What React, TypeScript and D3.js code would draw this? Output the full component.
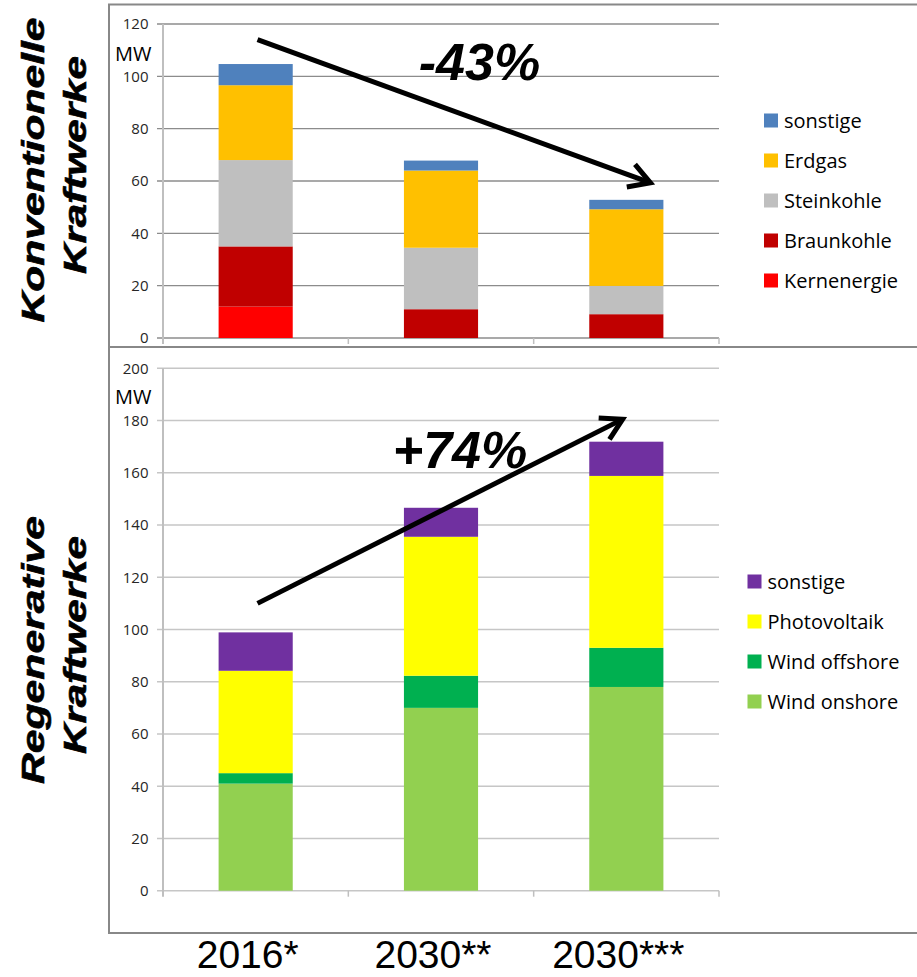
import React from 'react';
import * as d3 from 'd3';

const categories = ['2016*', '2030**', '2030***'];

// Konventionelle Kraftwerke (MW), stacked bottom -> top
const convSeries = ['Kernenergie', 'Braunkohle', 'Steinkohle', 'Erdgas', 'sonstige'];
const convColors = ['#FF0000', '#C00000', '#BFBFBF', '#FFC000', '#4F81BD'];
const kernenergie = [12, 0, 0];
const braunkohle = [23, 11, 9.1];
const steinkohle = [33, 23.5, 10.8];
const erdgas = [28.6, 29.5, 29.3];
const convSonstige = [8.1, 3.8, 3.6];
const convTicks = [0, 20, 40, 60, 80, 100, 120];

// Regenerative Kraftwerke (MW)
const regSeries = ['Wind onshore', 'Wind offshore', 'Photovoltaik', 'sonstige'];
const regColors = ['#92D050', '#00B050', '#FFFF00', '#7030A0'];
const windOnshore = [41, 70, 78];
const windOffshore = [4, 12.3, 15];
const photovoltaik = [39.2, 53.2, 65.8];
const regSonstige = [14.7, 11.1, 13.1];
const regTicks = [0, 20, 40, 60, 80, 100, 120, 140, 160, 180, 200];

// annotations, in (category index, MW)
const convArrow = { from: [0.01, 114], to: [2.13, 59.3] };
const regArrow = { from: [0.01, 110], to: [1.98, 180.5] };
const convChange = { label: '-43%', at: [0.88, 98.6] };
const regChange = { label: '+74%', at: [0.74, 161.8] };

const W = 917;
const H = 977;
const plotLeft = 163;
const plotRight = 719;

const x = d3.scaleBand<string>().domain(categories).range([plotLeft, plotRight])
  .paddingInner(0.6).paddingOuter(0.3);
const catX = (i: number) => (x(categories[0]) as number) + x.bandwidth() / 2 + i * x.step();

const tickFont = "'Open Sans', sans-serif";
const arial = "'Liberation Sans', Arial, sans-serif";

function buildRows(keys: string[], cols: number[][]) {
  return categories.map((c, i) => {
    const r: any = { cat: c };
    keys.forEach((k, j) => { r[k] = cols[j][i]; });
    return r;
  });
}

function Arrow({ from, to, y }: any) {
  const x1 = catX(from[0]), y1 = y(from[1]);
  const x2 = catX(to[0]), y2 = y(to[1]);
  const ang = Math.atan2(y1 - y2, x1 - x2);
  const len = 24;
  const spread = Math.PI / 6;
  const a = [x2 + len * Math.cos(ang + spread), y2 + len * Math.sin(ang + spread)];
  const b = [x2 + len * Math.cos(ang - spread), y2 + len * Math.sin(ang - spread)];
  return (
    <g stroke="#000" strokeWidth={5} fill="none">
      <line x1={x1} y1={y1} x2={x2 + 2 * Math.cos(ang)} y2={y2 + 2 * Math.sin(ang)} />
      <path d={`M${a[0]},${a[1]}L${x2},${y2}L${b[0]},${b[1]}`} strokeLinejoin="miter" />
    </g>
  );
}

function Panel(props: any) {
  const { keys, colors, cols, ticks, yMaxPx, yZeroPx, gridColor, gridWidth, legendX, legendY,
    arrow, change, mwY } = props;
  const max = ticks[ticks.length - 1];
  const y = d3.scaleLinear().domain([0, max]).range([yZeroPx, yMaxPx]);
  const rows = buildRows(keys, cols);
  const stacked = d3.stack().keys(keys)(rows);
  const boundaries = [0, 1, 2, 3].map(i => plotLeft + i * x.step());
  return (
    <g>
      {ticks.map((t: number) => (
        <g key={t}>
          <line x1={plotLeft - 6} x2={plotRight} y1={y(t)} y2={y(t)} stroke={gridColor} strokeWidth={gridWidth} />
          <text x={148.5} y={y(t)} dy="0.36em" textAnchor="end" fontFamily={tickFont} fontSize={15}
            fill="#262626">{t}</text>
        </g>
      ))}
      <line x1={plotLeft} x2={plotLeft} y1={yMaxPx} y2={yZeroPx + 6} stroke="#BFBFBF" strokeWidth={2} />
      {boundaries.slice(1).map((bx, i) => (
        <line key={i} x1={bx} x2={bx} y1={yZeroPx} y2={yZeroPx + 6} stroke="#BFBFBF" strokeWidth={1.5} />
      ))}
      {stacked.map((s: any, si: number) => (
        <g key={keys[si]} fill={colors[si]}>
          {s.map((d: any, i: number) => d[1] - d[0] > 0 ? (
            <rect key={i} x={x(categories[i])} width={x.bandwidth()} y={y(d[1])}
              height={y(d[0]) - y(d[1])} />
          ) : null)}
        </g>
      ))}
      <text x={115} y={mwY} fontFamily={tickFont} fontSize={20} fill="#000">MW</text>
      {keys.slice().reverse().map((k: string, i: number) => {
        const ci = keys.length - 1 - i;
        return (
          <g key={k} transform={`translate(${legendX},${legendY + i * 40})`}>
            <rect x={0} y={-14} width={14} height={14} fill={colors[ci]} />
            <text x={20} y={0} fontFamily={tickFont} fontSize={20} fill="#000">{k}</text>
          </g>
        );
      })}
      <Arrow from={arrow.from} to={arrow.to} y={y} />
      <text x={catX(change.at[0])} y={y(change.at[1])} fontFamily={arial}
        fontWeight="bold" fontStyle="italic" fontSize={52} fill="#000">{change.label}</text>
    </g>
  );
}

function SideTitle({ lines, centerY }: any) {
  return (
    <g transform="rotate(-90)" fontFamily={arial} fontWeight="bold" fontStyle="italic" fontSize={31}
      fill="#000" stroke="#000" strokeWidth={0.6} textAnchor="middle">
      {lines.map((l: any, i: number) => (
        <text key={i} x={-centerY[i]} y={l.baseline} textLength={l.length} lengthAdjust="spacingAndGlyphs">
          {l.text}
        </text>
      ))}
    </g>
  );
}

export default function App() {
  return (
    <svg width={W} height={H} style={{ position: 'absolute', left: 0, top: 0, background: '#fff' }}>
      <rect x={0} y={0} width={W} height={H} fill="#fff" />
      <rect x={109} y={4.5} width={W} height={342.5} fill="none" stroke="#888" strokeWidth={2} />
      <rect x={109} y={347} width={W} height={586} fill="none" stroke="#888" strokeWidth={2} />
      <Panel keys={convSeries} colors={convColors}
        cols={[kernenergie, braunkohle, steinkohle, erdgas, convSonstige]}
        ticks={convTicks} yMaxPx={24} yZeroPx={338} gridColor="#8C8C8C" gridWidth={1.3}
        legendX={764} legendY={127.5} arrow={convArrow} change={convChange} mwY={61} />
      <Panel keys={regSeries} colors={regColors}
        cols={[windOnshore, windOffshore, photovoltaik, regSonstige]}
        ticks={regTicks} yMaxPx={368.3} yZeroPx={890.7} gridColor="#C6C6C6" gridWidth={1.6}
        legendX={747.5} legendY={588.5} arrow={regArrow} change={regChange} mwY={403.5} />
      <SideTitle centerY={[170, 165]} lines={[
        { text: 'Konventionelle', baseline: 43.5, length: 305 },
        { text: 'Kraftwerke', baseline: 86, length: 218 }]} />
      <SideTitle centerY={[650, 645]} lines={[
        { text: 'Regenerative', baseline: 43.5, length: 268 },
        { text: 'Kraftwerke', baseline: 86, length: 218 }]} />
      {categories.map((c, i) => (
        <text key={c} x={catX(i) - 8} y={968} textAnchor="middle" fontFamily={arial}
          fontSize={39} fill="#000">{c}</text>
      ))}
    </svg>
  );
}
